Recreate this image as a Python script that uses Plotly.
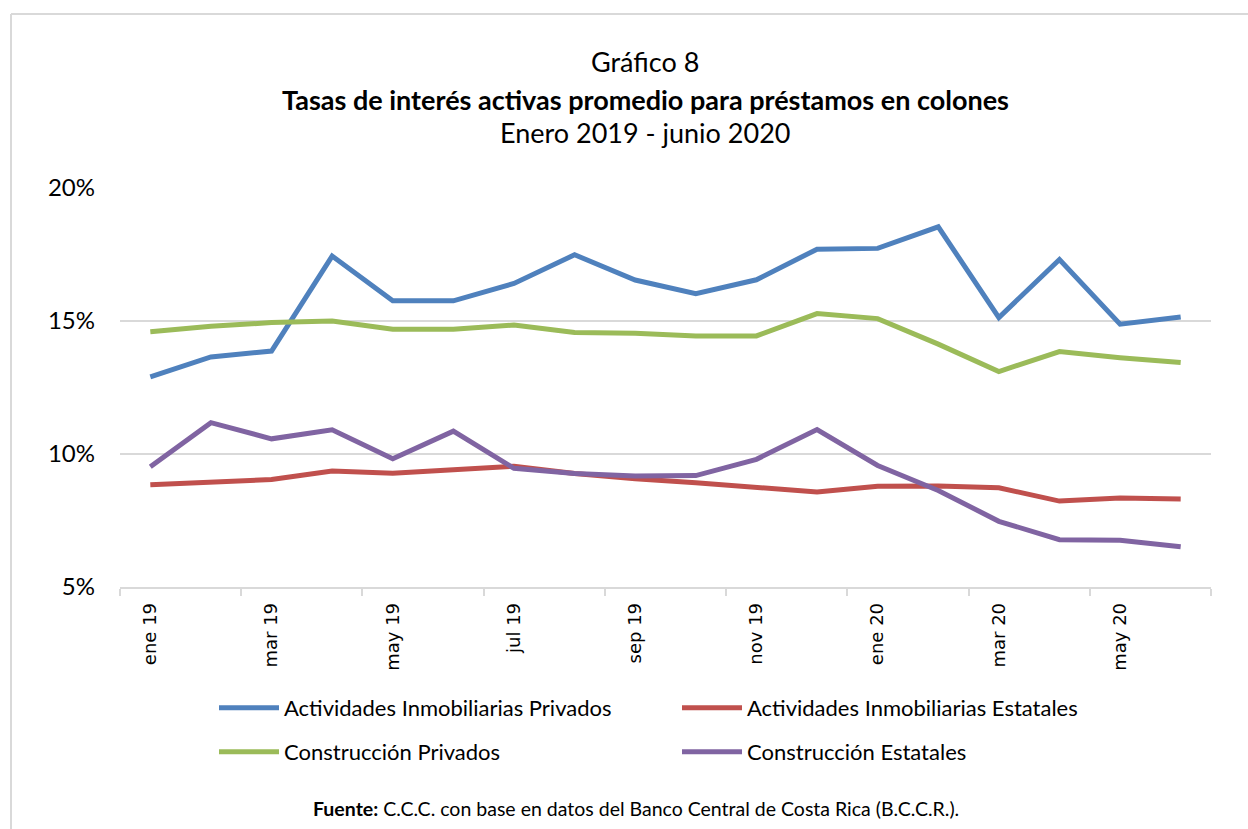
import plotly.graph_objects as go

months = ["ene 19", "feb 19", "mar 19", "abr 19", "may 19", "jun 19", "jul 19", "ago 19",
          "sep 19", "oct 19", "nov 19", "dic 19", "ene 20", "feb 20", "mar 20", "abr 20",
          "may 20", "jun 20"]

inmob_privados = [12.90, 13.65, 13.87, 17.44, 15.76, 15.76, 16.41, 17.49, 16.54, 16.03,
                  16.55, 17.70, 17.73, 18.54, 15.13, 17.31, 14.88, 15.15]
inmob_estatales = [8.84, 8.95, 9.04, 9.36, 9.28, 9.41, 9.54, 9.27, 9.07, 8.92,
                   8.73, 8.57, 8.79, 8.80, 8.73, 8.23, 8.35, 8.31]
constr_privados = [14.60, 14.80, 14.94, 15.00, 14.69, 14.69, 14.85, 14.57, 14.54, 14.44,
                   14.44, 15.28, 15.09, 14.13, 13.10, 13.85, 13.62, 13.44]
constr_estatales = [9.52, 11.18, 10.57, 10.91, 9.82, 10.86, 9.46, 9.27, 9.17, 9.19,
                    9.80, 10.92, 9.57, 8.63, 7.47, 6.78, 6.76, 6.51]

series = [
    ("Actividades Inmobiliarias Privados", inmob_privados, "#4F81BD", "legend"),
    ("Actividades Inmobiliarias Estatales", inmob_estatales, "#C0504D", "legend"),
    ("Construcción Privados", constr_privados, "#9BBB59", "legend2"),
    ("Construcción Estatales", constr_estatales, "#8064A2", "legend2"),
]

y_ticks = [5, 10, 15, 20]
y_labels = ["5%", "10%", "15%", "20%"]

xs = list(range(len(months)))
label_idx = xs[::2]
boundaries = [i - 0.5 for i in range(0, len(months) + 1, 2)]

TXT = "Lato"
fig = go.Figure()
for name, vals, col, lg in series:
    fig.add_trace(go.Scatter(x=xs, y=vals, name=name, mode="lines", legend=lg,
                             line=dict(color=col, width=5)))

W, H = 1248, 829
L, R, T, B = 120, 37, 188, 242
PW, PH = W - L - R, H - T - B


def px_x(p):
    return (p - L) / PW


def py(p):
    return 1 + (T - p) / PH


leg_common = dict(orientation="h", xanchor="left", yanchor="middle",
                  font=dict(family=TXT, size=22, color="#000000"),
                  entrywidth=388, entrywidthmode="pixels",
                  itemwidth=60, bgcolor="rgba(0,0,0,0)")

fig.update_layout(
    width=W, height=H,
    margin=dict(l=L, r=R, t=T, b=B, autoexpand=False),
    paper_bgcolor="white", plot_bgcolor="white",
    showlegend=True,
    legend=dict(x=px_x(214), y=py(708), **leg_common),
    legend2=dict(x=px_x(214), y=py(752), **leg_common),
    xaxis=dict(range=[-0.5, len(months) - 0.5], tickmode="array",
               tickvals=label_idx, ticktext=[months[i] for i in label_idx],
               tickangle=-90, ticks="", showgrid=False, zeroline=False,
               showline=True, linecolor="#D9D9D9", linewidth=1.5, automargin=False,
               ticklabelstandoff=7,
               tickfont=dict(family="DejaVu Sans", size=18, color="#000000"),
               minor=dict(tickmode="array", tickvals=boundaries, ticks="outside",
                          ticklen=7, tickcolor="#D9D9D9", tickwidth=1.5, showgrid=False)),
    yaxis=dict(range=[5, 20], tickmode="array", tickvals=y_ticks, ticktext=y_labels,
               showgrid=True, gridcolor="#D9D9D9", gridwidth=1.5, zeroline=False,
               showline=False, ticks="", ticklabelstandoff=24, automargin=False,
               tickfont=dict(family=TXT, size=24, color="#000000")),
)

# chart-area border (only top and left edges fall inside the picture), placed in pixels
fig.add_shape(type="line", xref="paper", yref="paper",
              xsizemode="pixel", xanchor=0, x0=11 - L, x1=W + 20 - L,
              ysizemode="pixel", yanchor=1, y0=T - 14, y1=T - 14,
              line=dict(color="#D9D9D9", width=2), layer="below")
fig.add_shape(type="line", xref="paper", yref="paper",
              xsizemode="pixel", xanchor=0, x0=11 - L, x1=11 - L,
              ysizemode="pixel", yanchor=1, y0=T - 14, y1=T - H - 20,
              line=dict(color="#D9D9D9", width=2), layer="below")

cx = px_x(645)
for txt, ypx in [("Gráfico 8", 62),
                 ("<b>Tasas de interés activas promedio para préstamos en colones</b>", 99),
                 ("Enero 2019 - junio 2020", 133)]:
    fig.add_annotation(text=txt, x=cx, y=py(ypx), xref="paper", yref="paper",
                       xanchor="center", yanchor="middle", showarrow=False,
                       font=dict(family=TXT, size=27, color="#000000"))
fig.add_annotation(text="<b>Fuente:</b> C.C.C. con base en datos del Banco Central de Costa Rica (B.C.C.R.).",
                   x=px_x(636), y=py(808), xref="paper", yref="paper",
                   xanchor="center", yanchor="middle",
                   showarrow=False, font=dict(family=TXT, size=19.5, color="#000000"))

fig.write_html("out.html", config={"displayModeBar": False},
               post_script="document.body.style.margin='0';document.body.style.overflow='hidden';")
